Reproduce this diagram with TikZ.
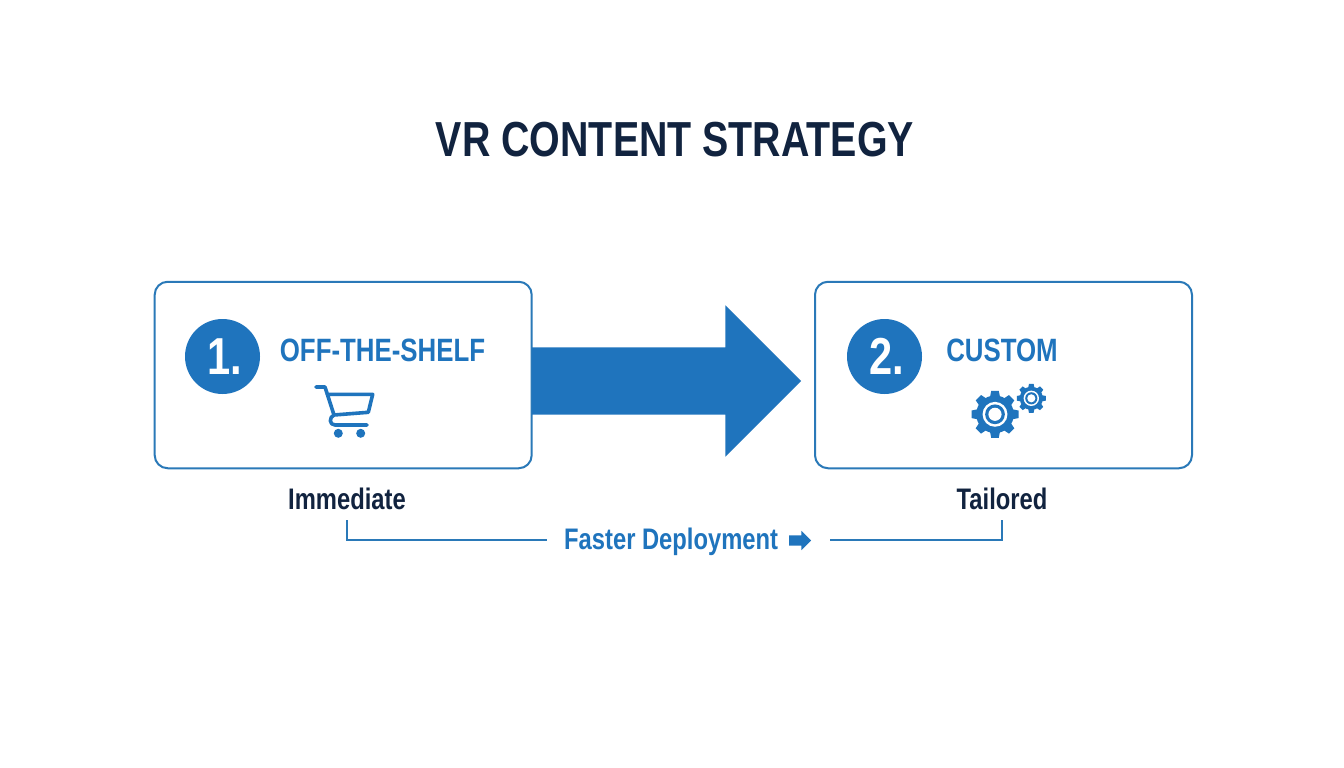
\documentclass[tikz,border=0pt]{standalone}
\usepackage{fontspec}
\setmainfont[FakeStretch=0.8]{Liberation Sans}
\usepackage{tikz}
\usetikzlibrary{shapes.arrows}
\definecolor{stratblue}{HTML}{1F74BD}
\definecolor{stratline}{HTML}{2A79B8}
\definecolor{stratnavy}{HTML}{11233F}
\tikzset{
	optionbox/.style={draw=stratline, line width=2pt, rounded corners=13pt, minimum width=377pt, minimum height=186.5pt, outer sep=0pt},
	numdisc/.style={circle, fill=stratblue, text=white, minimum size=75pt, inner sep=0pt, execute at begin node=\hspace{5pt}, font=\bfseries\fontsize{52}{52}\selectfont},
	optionlabel/.style={text=stratblue, inner sep=0pt, font=\bfseries\fontsize{32.3}{32.3}\selectfont},
	gainlabel/.style={text=stratnavy, inner sep=0pt, minimum height=42pt, font=\bfseries\fontsize{29.7}{29.7}\selectfont},
	rail/.style={draw=stratline, line width=1.3pt},
	cogwheel/.pic={
		\foreach \a in {0,45,...,315}
			\fill[stratblue, rotate=\a] (-.22,.7) -- (-.16,1) -- (.16,1) -- (.22,.7) -- cycle;
		\fill[stratblue] (0,0) circle (.8);
		\fill[white] (0,0) circle (.53);
		\fill[stratblue] (0,0) circle (.42);
		\fill[white] (0,0) circle (.28);
	}
}
\begin{document}
\begin{tikzpicture}[x=1pt, y=-1pt]
\useasboundingbox[fill=white] (0,0) rectangle (1344,768);
\node (title) [text=stratnavy, inner sep=0pt, font=\bfseries\fontsize{49.2}{49.2}\selectfont] at (675,139.5) {VR CONTENT STRATEGY};

\node (offshelf) [optionbox] at (343.2,375) {};
\node (custom) [optionbox] at (1003.5,375) {};
\node (gap) [single arrow, fill=stratblue, inner xsep=0pt, inner ysep=33.5pt, outer sep=0pt, minimum height=269pt, single arrow head extend=42pt, single arrow tip angle=90, anchor=tip] at (801,381) {};

\node (one) [numdisc] at (222.5,356.5) {1.};
\node (two) [numdisc] at (884.5,356.5) {2.};
\node (offlabel) [optionlabel] at (382.5,350) {OFF-THE-SHELF};
\node (customlabel) [optionlabel] at (1002,350) {CUSTOM};

\draw[stratblue, line width=3.6pt, line cap=round, line join=round] (316,387) -- (325,387) -- (334,415) -- (368.3,412.3) -- (372.7,394.3) -- (327,394.3)
	(334,415) .. controls (329,417) and (329,425) .. (335,425) -- (367,425);
\fill[stratblue] (338.3,433.3) circle (4.5) (360.7,433.3) circle (4.5);

\pic[scale=23.5] at (995,414.3) {cogwheel};
\pic[scale=14.5] at (1031.3,398.3) {cogwheel};

\node (immediate) [gainlabel] at (347,499) {Immediate};
\node (tailored) [gainlabel] at (1002,499) {Tailored};
\node (faster) [text=stratblue, inner xsep=17pt, inner ysep=0pt, anchor=west, font=\bfseries\fontsize{29.7}{29.7}\selectfont] at (547,542) {Faster Deployment};
\node (fasterarrow) [single arrow, fill=stratblue, inner xsep=0pt, inner ysep=5pt, outer sep=0pt, minimum height=22pt, single arrow head extend=4.5pt, single arrow tip angle=90, anchor=tip] at (811,540.5) {};
\coordinate (railstart) at (547,540);
\coordinate (railend) at (830,540);
\draw[rail] (immediate.south) |- (railstart);
\draw[rail] (tailored.south) |- (railend);
\end{tikzpicture}
\end{document}
